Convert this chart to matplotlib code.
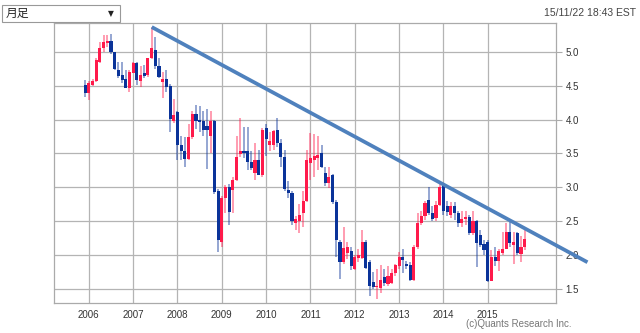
import numpy as np
import matplotlib
matplotlib.use('Agg')
import matplotlib.pyplot as plt
from matplotlib.patches import Rectangle

plt.rcParams['font.family'] = ['Liberation Sans', 'DejaVu Sans']

# 月足データ (2005年12月 ～ 2015年11月)
start_year = 2005 + 11 / 12
opens = [
    4.51,
    4.39, 4.51, 4.56, 4.85, 5.05, 5.13, 5.16, 4.99, 4.73, 4.65, 4.60, 4.46,
    4.69, 4.83, 4.56, 4.68, 4.65, 4.90, 5.03, 4.78, 4.55, 4.60, 4.50, 3.98,
    4.11, 3.62, 3.54, 3.42, 3.74, 4.08, 4.00, 3.98, 3.91, 3.76, 3.98, 2.95,
    2.20, 2.84, 3.01, 2.96, 3.11, 3.49, 3.53, 3.53, 3.38, 3.21, 3.40, 3.18,
    3.88, 3.63, 3.63, 3.85, 3.66, 3.45, 2.97, 2.92, 2.48, 2.50, 2.62, 2.80,
    3.36, 3.40, 3.44, 3.50, 3.22, 3.06, 3.18, 2.79, 2.20, 1.91, 2.03, 2.06,
    1.80, 1.96, 1.96, 2.20, 1.91, 1.61, 1.53, 1.52, 1.68, 1.58, 1.60, 1.74,
    1.84, 1.98, 1.87, 1.86, 1.64, 2.13, 2.47, 2.58, 2.82, 2.62, 2.55, 2.74,
    3.02, 2.72, 2.60, 2.72, 2.62, 2.48, 2.53, 2.57, 2.33, 2.50, 2.30, 2.17,
    2.20, 1.62, 1.98, 1.92, 2.03, 2.10, 2.35, 2.15, 2.33, 2.02, 2.13,
]
highs = [
    4.58,
    4.56, 4.60, 4.90, 5.14, 5.24, 5.24, 5.26, 5.00, 4.85, 4.85, 4.73, 4.73,
    4.84, 4.85, 4.78, 4.80, 4.91, 5.36, 5.22, 4.90, 4.70, 4.73, 4.52, 4.30,
    4.13, 3.76, 3.74, 3.93, 4.13, 4.22, 4.20, 4.12, 4.15, 4.13, 4.00, 2.98,
    2.88, 3.03, 3.05, 3.15, 3.75, 4.02, 3.89, 3.89, 3.53, 3.65, 3.55, 3.87,
    3.94, 3.82, 3.85, 4.02, 3.72, 3.55, 3.10, 2.95, 2.58, 2.75, 2.95, 3.55,
    3.80, 3.78, 3.75, 3.62, 3.30, 3.30, 3.20, 2.82, 2.22, 2.42, 2.20, 2.12,
    2.00, 2.10, 2.37, 2.22, 1.93, 1.75, 1.80, 1.86, 1.80, 1.84, 1.80, 1.88,
    2.05, 2.10, 1.92, 1.90, 2.16, 2.62, 2.65, 2.80, 3.01, 2.72, 2.80, 3.05,
    3.06, 2.80, 2.78, 2.78, 2.65, 2.65, 2.65, 2.60, 2.65, 2.52, 2.38, 2.22,
    2.22, 2.08, 2.12, 2.10, 2.35, 2.48, 2.50, 2.35, 2.35, 2.28, 2.38,
]
lows = [
    4.33,
    4.29, 4.50, 4.55, 4.83, 5.00, 5.07, 4.97, 4.73, 4.61, 4.53, 4.46, 4.41,
    4.68, 4.51, 4.48, 4.61, 4.63, 4.89, 4.75, 4.61, 4.31, 4.40, 3.81, 3.95,
    3.40, 3.40, 3.30, 3.40, 3.72, 3.86, 3.82, 3.75, 3.27, 3.50, 2.90, 2.05,
    2.13, 2.62, 2.45, 2.62, 3.09, 3.45, 3.43, 3.26, 3.26, 3.11, 3.18, 3.15,
    3.46, 3.53, 3.55, 3.60, 3.30, 2.95, 2.85, 2.45, 2.38, 2.33, 2.42, 2.78,
    3.11, 3.15, 3.25, 3.28, 3.02, 2.99, 2.76, 1.97, 1.66, 1.88, 1.95, 1.78,
    1.79, 1.90, 1.95, 1.80, 1.40, 1.50, 1.36, 1.45, 1.55, 1.55, 1.58, 1.70,
    1.80, 1.74, 1.80, 1.62, 1.63, 2.10, 2.45, 2.52, 2.60, 2.50, 2.50, 2.72,
    2.60, 2.58, 2.55, 2.52, 2.42, 2.42, 2.45, 2.30, 2.30, 1.83, 2.13, 2.00,
    1.61, 1.62, 1.85, 1.77, 2.00, 2.10, 2.12, 1.88, 2.00, 1.90, 2.08,
]
closes = [
    4.39,
    4.53, 4.56, 4.87, 5.05, 5.14, 5.16, 4.99, 4.75, 4.64, 4.58, 4.46, 4.70,
    4.83, 4.58, 4.65, 4.64, 4.90, 5.05, 4.78, 4.63, 4.59, 4.48, 4.01, 4.06,
    3.62, 3.54, 3.42, 3.74, 4.08, 3.98, 3.97, 3.84, 3.84, 3.98, 2.93, 2.22,
    2.84, 3.01, 2.64, 3.11, 3.45, 3.54, 3.50, 3.38, 3.28, 3.40, 3.18, 3.85,
    3.71, 3.68, 3.83, 3.66, 3.45, 2.98, 2.92, 2.50, 2.53, 2.60, 2.80, 3.40,
    3.43, 3.46, 3.48, 3.30, 3.06, 3.16, 2.79, 2.23, 1.91, 2.11, 2.13, 1.84,
    1.98, 2.01, 2.20, 1.82, 1.55, 1.54, 1.55, 1.64, 1.59, 1.69, 1.74, 1.86,
    1.98, 1.93, 1.84, 1.64, 2.13, 2.47, 2.58, 2.77, 2.62, 2.54, 2.74, 3.01,
    2.65, 2.64, 2.72, 2.62, 2.48, 2.53, 2.57, 2.33, 2.50, 2.18, 2.16, 2.08,
    1.62, 1.98, 1.92, 2.06, 2.10, 2.35, 2.18, 2.20, 2.03, 2.13, 2.24,
]

# トレンドライン
trend_x = [2007.42, 2017.25]
trend_y = [5.36, 1.90]

year_ticks = list(range(2006, 2016))
price_ticks = [1.5, 2.0, 2.5, 3.0, 3.5, 4.0, 4.5, 5.0]

up_color = '#ff1a4b'
down_color = '#0a3399'

o = np.array(opens)
h = np.array(highs)
l = np.array(lows)
c = np.array(closes)
t = start_year + np.arange(len(o)) / 12
up = c >= o
colors = np.where(up, up_color, down_color)

fig = plt.figure(figsize=(6.4, 3.33), dpi=100)
ax = fig.add_axes([54 / 640, 1 - 303 / 333, (556 - 54) / 640, (303 - 23) / 333])

# ヒゲ
ax.vlines(t, l, h, colors=colors, lw=1.1, alpha=0.55, zorder=2)
# 実体
bottom = np.minimum(o, c)
height = np.maximum(np.abs(c - o), 0.02)
ax.bar(t, height, bottom=bottom, width=0.07, color=colors, lw=0, zorder=3)

ax.plot(trend_x, trend_y, color='#4f81bd', lw=2.7, solid_capstyle='butt',
        clip_on=False, zorder=5)

ax.set_xlim(2005.214, 2016.54)
ax.set_ylim(1.30, 5.42)
ax.set_xticks(year_ticks)
ax.set_xticklabels([str(y) for y in year_ticks])
ax.set_yticks(price_ticks)
ax.set_yticklabels([f'{p:.1f}' for p in price_ticks])
ax.yaxis.tick_right()
ax.tick_params(axis='y', length=4, color='#aaaaaa', pad=3, labelsize=7, labelcolor='#333333')
ax.tick_params(axis='x', length=0, pad=5, labelsize=7, labelcolor='#333333')
ax.grid(True, color='#b4b4b4', lw=0.9)
ax.set_axisbelow(True)
for s in ax.spines.values():
    s.set_color('#aaaaaa')
    s.set_linewidth(0.9)

# 上部のヘッダー
fig.patches.append(Rectangle((2 / 640, 1 - 22 / 333), 118 / 640, 17 / 333,
                             transform=fig.transFigure, facecolor='white',
                             edgecolor='#999999', lw=0.8))
fig.text(6 / 640, 1 - 13.5 / 333, '月足', fontsize=8.5, va='center',
         family=['Noto Sans CJK JP', 'DejaVu Sans'], color='#222222')
fig.text(111 / 640, 1 - 13.5 / 333, '▼', fontsize=5.5, va='center', ha='center',
         family=['DejaVu Sans'], color='#222222')
fig.text(636 / 640, 1 - 13 / 333, '15/11/22 18:43 EST', fontsize=7.5,
         ha='right', va='center', color='#444444')
fig.text(571 / 640, 1 - 324 / 333, '(c)Quants Research Inc.', fontsize=7,
         ha='right', va='center', color='#777777')

fig.savefig('out.png', dpi=100)
